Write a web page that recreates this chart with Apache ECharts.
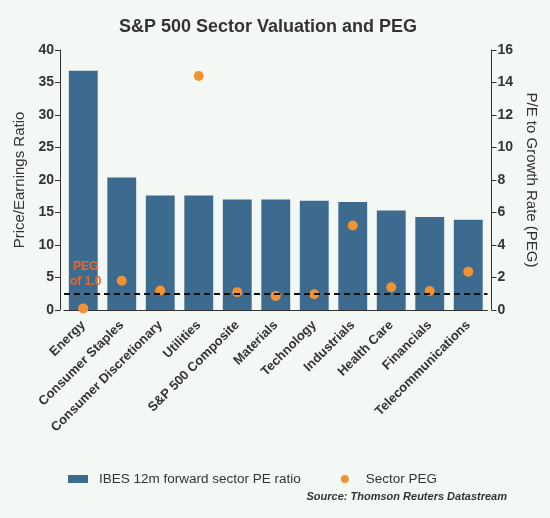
<!DOCTYPE html>
<html><head><meta charset="utf-8">
<script src="https://cdn.jsdelivr.net/npm/echarts@6/dist/echarts.min.js"></script>
<style>html,body{margin:0;padding:0;background:#fff}#c{width:550px;height:518px}</style>
</head><body><div id="c"></div>
<script>
const categories = ["Energy","Consumer Staples","Consumer Discretionary","Utilities","S&P 500 Composite","Materials","Technology","Industrials","Health Care","Financials","Telecommunications"];
const peRatio = [36.8, 20.4, 17.6, 17.6, 17.0, 17.0, 16.8, 16.6, 15.3, 14.3, 13.9];
const sectorPEG = [0.1, 1.8, 1.2, 14.4, 1.1, 0.86, 0.97, 5.2, 1.4, 1.17, 2.36];
const pegReference = 1.0;
const leftTicks = {min: 0, max: 40, interval: 5};
const rightTicks = {min: 0, max: 16, interval: 2};

const chart = echarts.init(document.getElementById('c'), null, {renderer: 'canvas'});
const font = 'Arial, "Liberation Sans", sans-serif';
chart.setOption({
  backgroundColor: '#f4f8f4',
  animation: false,
  title: {text: 'S&P 500 Sector Valuation and PEG', left: 114, top: 13,
    textStyle: {fontFamily: font, fontSize: 18, fontWeight: 'bold', color: '#333'}},
  grid: {left: 64, right: 62.5, top: 50, bottom: 208},
  legend: {bottom: 27, left: 63, itemGap: 40, itemWidth: 20, itemHeight: 8,
    textStyle: {fontFamily: font, fontSize: 13.5, color: '#333', padding: [0,0,0,6]},
    data: [{name: 'IBES 12m forward sector PE ratio', icon: 'rect'}, {name: 'Sector PEG', icon: 'circle'}]},
  xAxis: {type: 'category', data: categories,
    axisLine: {lineStyle: {color: '#333'}},
    axisTick: {alignWithLabel: true, length: 5, lineStyle: {color: '#333'}},
    axisLabel: {rotate: 45, interval: 0, fontFamily: font, fontSize: 13, fontWeight: 'bold', color: '#333', margin: 13}},
  yAxis: [
    {type: 'value', min: leftTicks.min, max: leftTicks.max, interval: leftTicks.interval, offset: 4,
     name: 'Price/Earnings Ratio', nameLocation: 'middle', nameGap: 31, nameRotate: 90,
     nameTextStyle: {fontFamily: font, fontSize: 15, color: '#333'},
     axisLine: {show: true, lineStyle: {color: '#333'}}, axisTick: {show: true, length: 5, lineStyle: {color: '#333'}},
     splitLine: {show: false},
     axisLabel: {fontFamily: font, fontSize: 14, fontWeight: 'bold', color: '#333', margin: 6}},
    {type: 'value', min: rightTicks.min, max: rightTicks.max, interval: rightTicks.interval, offset: 4, position: 'right',
     name: 'P/E to Growth Rate (PEG)', nameLocation: 'middle', nameGap: 25, nameRotate: -90,
     nameTextStyle: {fontFamily: font, fontSize: 15, color: '#333'},
     axisLine: {show: true, lineStyle: {color: '#333'}}, axisTick: {show: true, length: 5, lineStyle: {color: '#333'}},
     splitLine: {show: false},
     axisLabel: {fontFamily: font, fontSize: 14, fontWeight: 'bold', color: '#333', margin: 6}}
  ],
  series: [
    {name: 'IBES 12m forward sector PE ratio', type: 'bar', data: peRatio, barCategoryGap: '25%',
     itemStyle: {color: '#3c6b8f'}, z: 1},
    {name: 'Sector PEG', type: 'scatter', yAxisIndex: 1, data: sectorPEG, symbolSize: 10,
     itemStyle: {color: '#f39232', opacity: 1}, z: 3,
     markLine: {silent: true, symbol: 'none', label: {show: false},
       lineStyle: {color: '#111', type: [6, 4], width: 2},
       data: [{yAxis: pegReference}]}}
  ],
  graphic: [
    {type: 'text', left: 73, top: 261, z: 100, style: {text: 'PEG', fill: '#e8682a', font: 'bold 12px ' + font}},
    {type: 'text', left: 70, top: 276, z: 100, style: {text: 'of 1.0', fill: '#e8682a', font: 'bold 12px ' + font}},
    {type: 'text', right: 43, top: 491, z: 100, style: {text: 'Source: Thomson Reuters Datastream', fill: '#333', font: 'italic bold 11px ' + font}}
  ]
});
</script></body></html>
